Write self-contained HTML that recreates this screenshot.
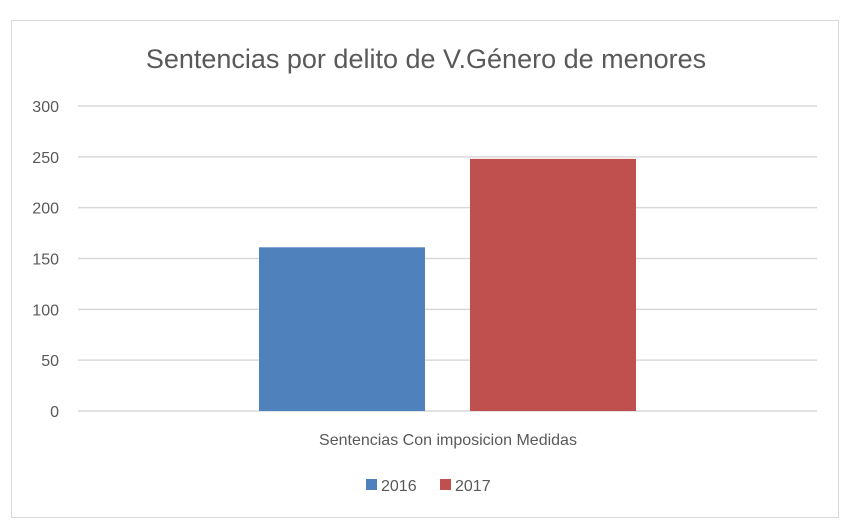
<!DOCTYPE html>
<html><head><meta charset="utf-8"><style>
body{margin:0;background:#fff;width:858px;height:527px;overflow:hidden;font-family:"Liberation Sans",sans-serif}
</style></head><body>
<svg width="858" height="527">
<rect x="11.5" y="20.5" width="827" height="497" fill="#fff" stroke="#d9d9d9"/>
<text x="426" y="68" text-anchor="middle" font-size="27" fill="#595959">Sentencias por delito de V.Género de menores</text>
<g id="grid"></g><g id="bars"></g>
<text x="448" y="445" text-anchor="middle" font-size="16" fill="#595959">Sentencias Con imposicion Medidas</text>
<g id="legend"></g>
</svg>
<script>
const categories=["Sentencias Con imposicion Medidas"];
const series=["2016","2017"];
const values=[161,248];
const colors=["#4f81bd","#c0504d"];
const ticks=[0,50,100,150,200,250,300];
const ns="http://www.w3.org/2000/svg";
const y0=411,y1=106,vmax=300;
const yScale=v=>y0-(v/vmax)*(y0-y1);
const grid=document.getElementById('grid');
ticks.forEach(t=>{
 const l=document.createElementNS(ns,'line');
 l.setAttribute('x1',78);l.setAttribute('x2',817);l.setAttribute('y1',yScale(t));l.setAttribute('y2',yScale(t));
 l.setAttribute('stroke','#d9d9d9');l.setAttribute('stroke-width','1.5');
 
 
 grid.appendChild(l);
 const tx=document.createElementNS(ns,'text');
 tx.setAttribute('x',59);tx.setAttribute('y',yScale(t)+6);tx.setAttribute('text-anchor','end');
 tx.setAttribute('font-size','16');tx.setAttribute('fill','#595959');tx.textContent=t;
 
 
 grid.appendChild(tx);
});
const bars=document.getElementById('bars');
const bx=[259,470],bw=166;
values.forEach((v,i)=>{
 const r=document.createElementNS(ns,'rect');
 r.setAttribute('x',bx[i]);r.setAttribute('width',bw);r.setAttribute('y',yScale(v));r.setAttribute('height',y0-yScale(v));
 r.setAttribute('fill',colors[i]);
 
 
 bars.appendChild(r);
});
const lg=document.getElementById('legend');
const lx=[366,440];
series.forEach((s,i)=>{
 const r=document.createElementNS(ns,'rect');
 r.setAttribute('x',lx[i]);r.setAttribute('y',479);r.setAttribute('width',11);r.setAttribute('height',11);r.setAttribute('fill',colors[i]);
 
 
 lg.appendChild(r);
 const t=document.createElementNS(ns,'text');
 t.setAttribute('x',lx[i]+15);t.setAttribute('y',491);t.setAttribute('font-size','16');t.setAttribute('fill','#595959');t.textContent=s;
 
 
 lg.appendChild(t);
});
</script>
</body></html>
